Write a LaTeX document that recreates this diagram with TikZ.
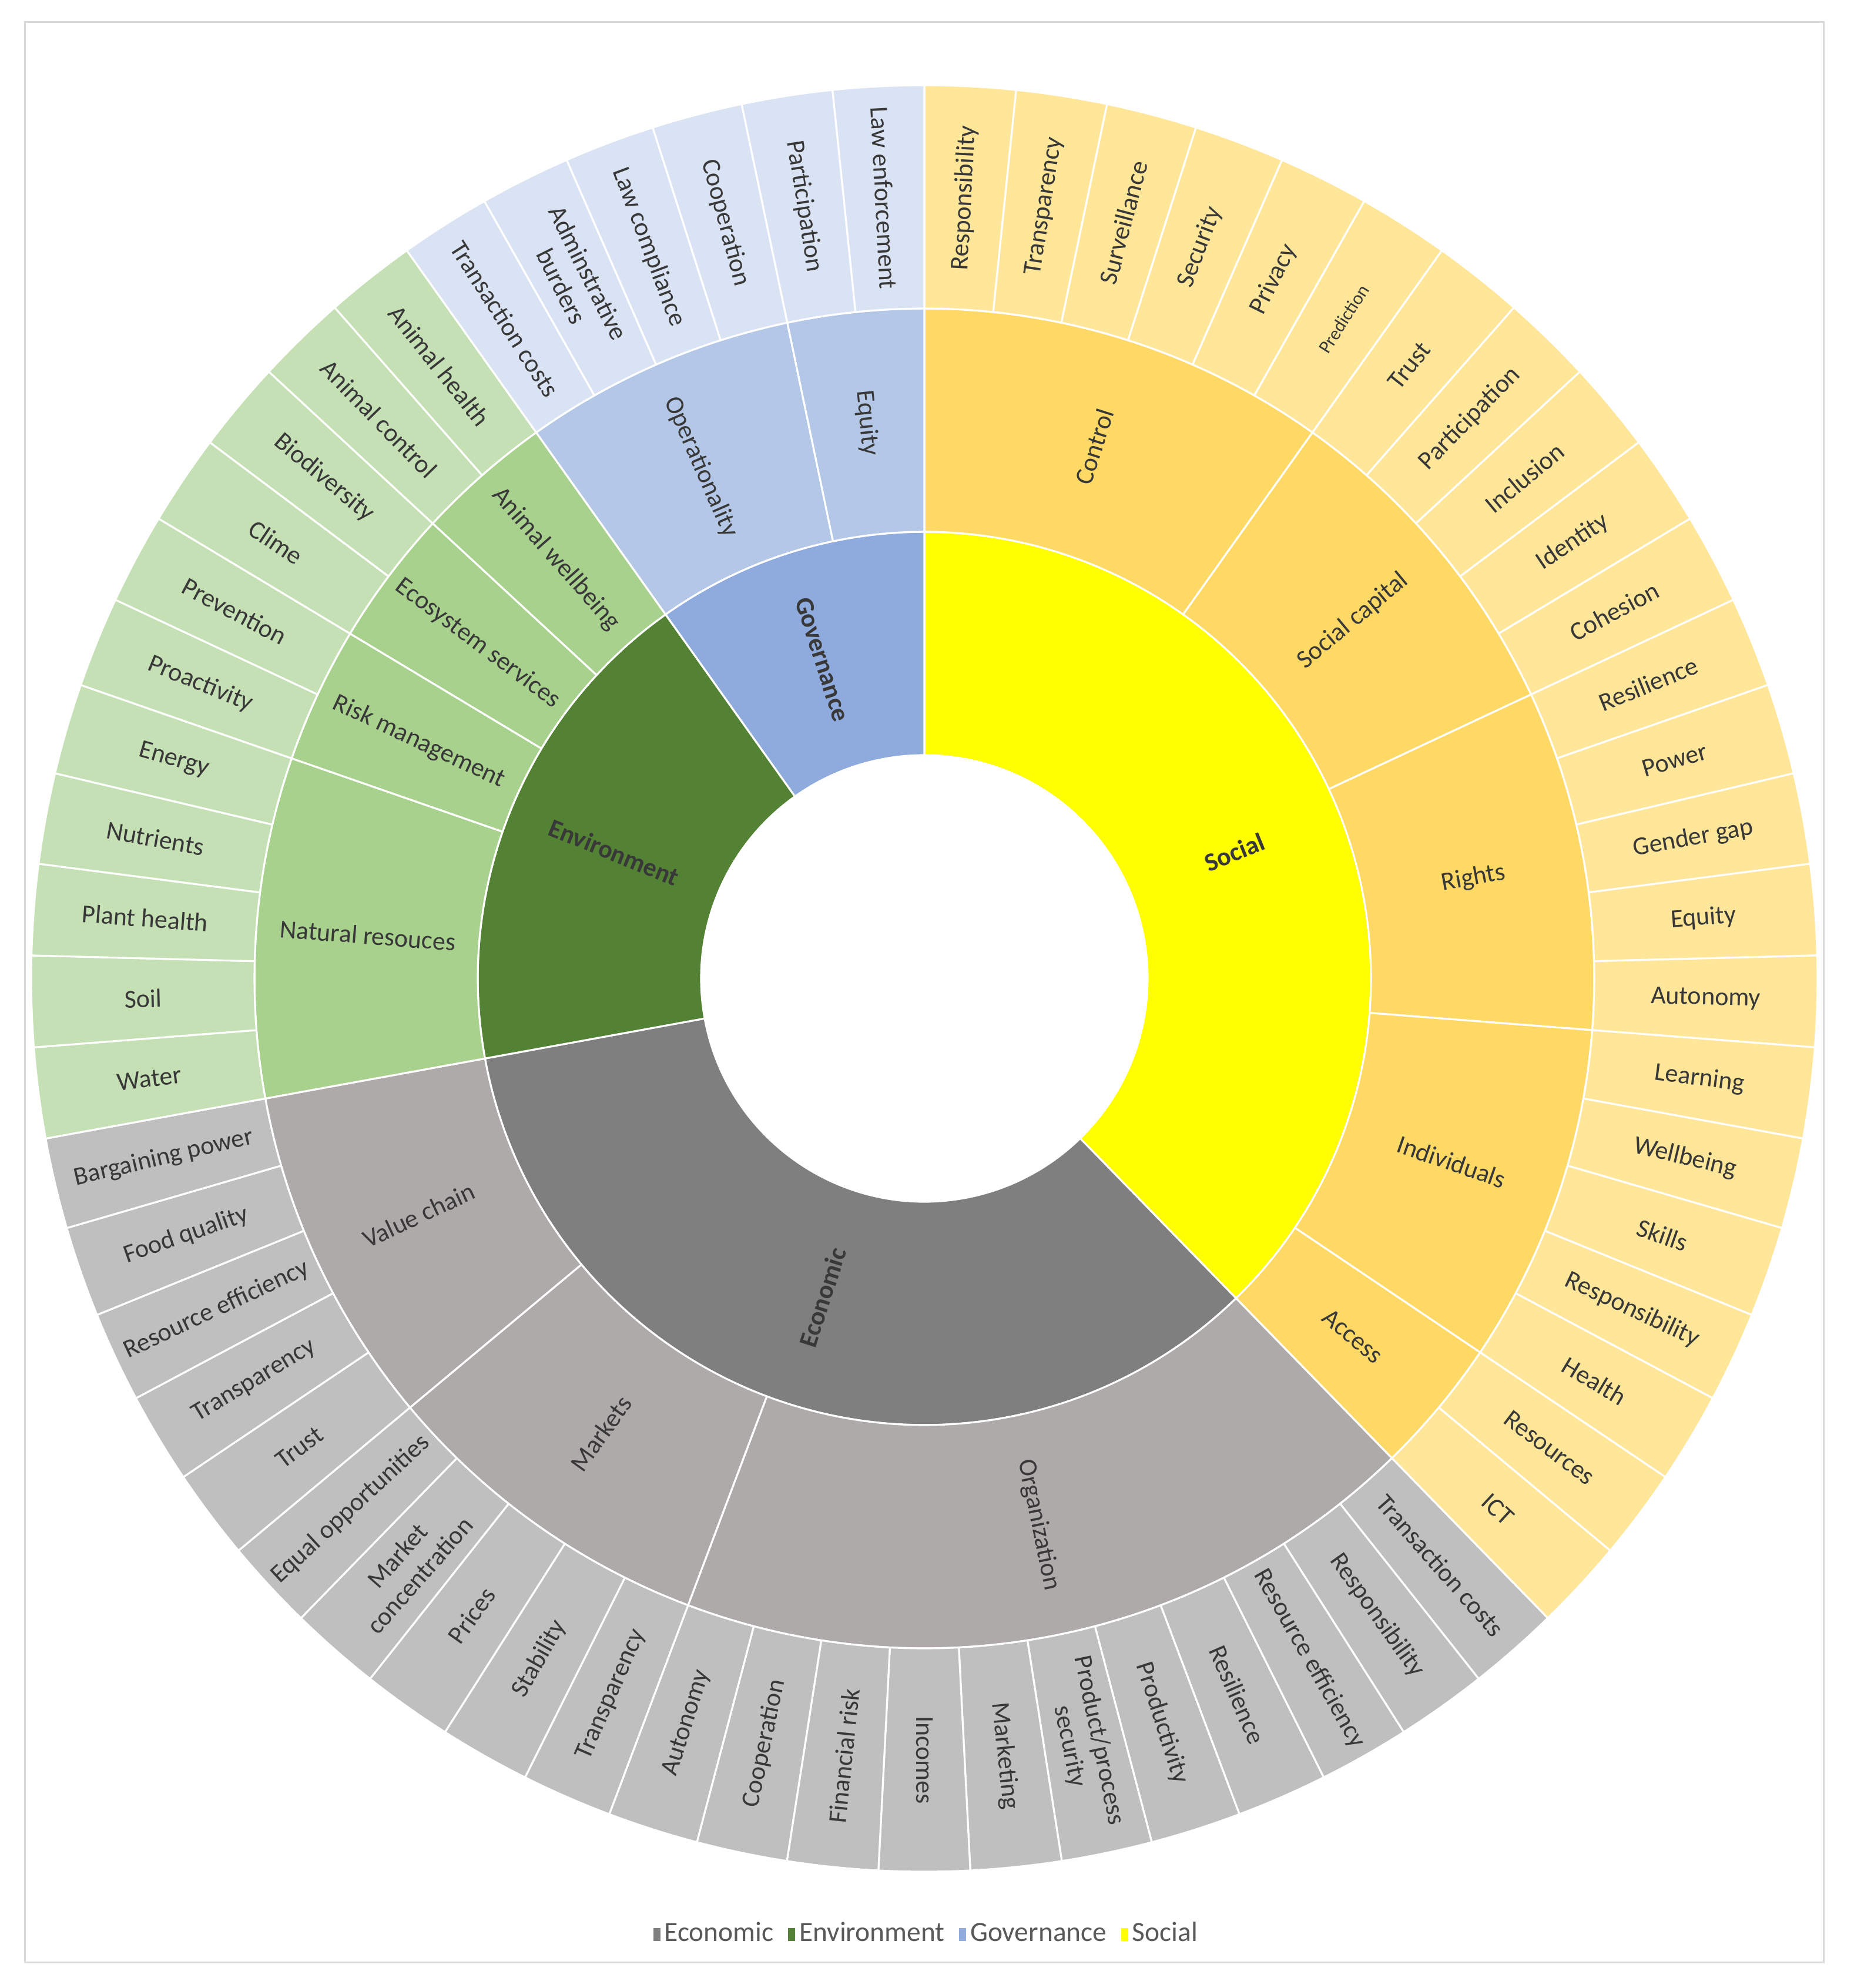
\documentclass[tikz,border=0pt]{standalone}
\usepackage{fontspec}
\setmainfont{Carlito}
\definecolor{socA}{HTML}{FFFF00}
\definecolor{socB}{HTML}{FFD966}
\definecolor{socC}{HTML}{FFE699}
\definecolor{ecoA}{HTML}{7F7F7F}
\definecolor{ecoB}{HTML}{AEAAAA}
\definecolor{ecoC}{HTML}{BFBFBF}
\definecolor{envA}{HTML}{548235}
\definecolor{envB}{HTML}{A9D18E}
\definecolor{envC}{HTML}{C5E0B4}
\definecolor{govA}{HTML}{8FAADC}
\definecolor{govB}{HTML}{B4C7E7}
\definecolor{govC}{HTML}{DAE3F3}
\definecolor{lbltext}{HTML}{383838}
\definecolor{legtext}{HTML}{595959}
\definecolor{framegray}{HTML}{D9D9D9}
\newcommand{\sbseg}[6]{%
  \pgfmathsetmacro\sbaA{90-#2*(360/61)}%
  \pgfmathsetmacro\sbaB{90-(#2+#3)*(360/61)}%
  \pgfmathsetmacro\sbam{(\sbaA+\sbaB)/2}%
  \pgfmathsetmacro\sbrin{3.8*(#1+1)}%
  \pgfmathsetmacro\sbrout{3.8*(#1+2)}%
  \pgfmathsetmacro\sbrmid{3.8*(#1+1.5)}%
  \pgfmathsetmacro\sbrot{cos(\sbam)>=0 ? \sbam : \sbam+180}%
  \path[segment, fill=#4] (\sbaA:\sbrin cm) -- (\sbaA:\sbrout cm)
    arc[start angle=\sbaA, end angle=\sbaB, radius=\sbrout cm]
    -- (\sbaB:\sbrin cm)
    arc[start angle=\sbaB, end angle=\sbaA, radius=\sbrin cm] -- cycle;
  \node[lbl, rotate=\sbrot] (#5) at (\sbam:\sbrmid cm) {#6};%
}
\begin{document}
\begin{tikzpicture}[
  segment/.style={draw=white, line width=0.9pt, line join=round},
  lbl/.style={text=lbltext, font=\fontsize{12.5}{14.5}\selectfont, align=center, inner sep=0pt},
  legendnode/.style={text=legtext, font=\fontsize{13.5}{15}\selectfont, inner sep=0pt}
]
\useasboundingbox (-15.73,-17.18) rectangle (15.81,16.65);
\fill[white] (-15.73,-17.18) rectangle (15.81,16.65);
\draw[framegray, line width=0.85pt] (-15.30,-16.74) rectangle (15.30,16.27);

% level 1
\sbseg{0}{0}{23}{socA}{social}{\bfseries Social}
\sbseg{0}{23}{21}{ecoA}{economic}{\bfseries Economic}
\sbseg{0}{44}{11}{envA}{environment}{\bfseries Environment}
\sbseg{0}{55}{6}{govA}{governance}{\bfseries Governance}

% level 2
\sbseg{1}{0}{6}{socB}{control}{Control}
\sbseg{1}{6}{5}{socB}{socialcapital}{Social capital}
\sbseg{1}{11}{5}{socB}{rights}{Rights}
\sbseg{1}{16}{5}{socB}{individuals}{Individuals}
\sbseg{1}{21}{2}{socB}{access}{Access}
\sbseg{1}{23}{11}{ecoB}{organization}{Organization}
\sbseg{1}{34}{5}{ecoB}{markets}{Markets}
\sbseg{1}{39}{5}{ecoB}{valuechain}{Value chain}
\sbseg{1}{44}{5}{envB}{natural}{Natural resouces}
\sbseg{1}{49}{2}{envB}{riskmgmt}{Risk management}
\sbseg{1}{51}{2}{envB}{ecosystem}{Ecosystem services}
\sbseg{1}{53}{2}{envB}{animalwb}{Animal wellbeing}
\sbseg{1}{55}{4}{govB}{operationality}{Operationality}
\sbseg{1}{59}{2}{govB}{govequity}{Equity}

% level 3 - social
\sbseg{2}{0}{1}{socC}{s1}{Responsibility}
\sbseg{2}{1}{1}{socC}{s2}{Transparency}
\sbseg{2}{2}{1}{socC}{s3}{Surveillance}
\sbseg{2}{3}{1}{socC}{s4}{Security}
\sbseg{2}{4}{1}{socC}{s5}{Privacy}
\sbseg{2}{5}{1}{socC}{s6}{\fontsize{9}{10}\selectfont Prediction}
\sbseg{2}{6}{1}{socC}{s7}{Trust}
\sbseg{2}{7}{1}{socC}{s8}{Participation}
\sbseg{2}{8}{1}{socC}{s9}{Inclusion}
\sbseg{2}{9}{1}{socC}{s10}{Identity}
\sbseg{2}{10}{1}{socC}{s11}{Cohesion}
\sbseg{2}{11}{1}{socC}{s12}{Resilience}
\sbseg{2}{12}{1}{socC}{s13}{Power}
\sbseg{2}{13}{1}{socC}{s14}{Gender gap}
\sbseg{2}{14}{1}{socC}{s15}{Equity}
\sbseg{2}{15}{1}{socC}{s16}{Autonomy}
\sbseg{2}{16}{1}{socC}{s17}{Learning}
\sbseg{2}{17}{1}{socC}{s18}{Wellbeing}
\sbseg{2}{18}{1}{socC}{s19}{Skills}
\sbseg{2}{19}{1}{socC}{s20}{Responsibility}
\sbseg{2}{20}{1}{socC}{s21}{Health}
\sbseg{2}{21}{1}{socC}{s22}{Resources}
\sbseg{2}{22}{1}{socC}{s23}{ICT}
% level 3 - economic
\sbseg{2}{23}{1}{ecoC}{e1}{Transaction costs}
\sbseg{2}{24}{1}{ecoC}{e2}{Responsibility}
\sbseg{2}{25}{1}{ecoC}{e3}{Resource efficiency}
\sbseg{2}{26}{1}{ecoC}{e4}{Resilience}
\sbseg{2}{27}{1}{ecoC}{e5}{Productivity}
\sbseg{2}{28}{1}{ecoC}{e6}{Product/process\\security}
\sbseg{2}{29}{1}{ecoC}{e7}{Marketing}
\sbseg{2}{30}{1}{ecoC}{e8}{Incomes}
\sbseg{2}{31}{1}{ecoC}{e9}{Financial risk}
\sbseg{2}{32}{1}{ecoC}{e10}{Cooperation}
\sbseg{2}{33}{1}{ecoC}{e11}{Autonomy}
\sbseg{2}{34}{1}{ecoC}{e12}{Transparency}
\sbseg{2}{35}{1}{ecoC}{e13}{Stability}
\sbseg{2}{36}{1}{ecoC}{e14}{Prices}
\sbseg{2}{37}{1}{ecoC}{e15}{Market\\concentration}
\sbseg{2}{38}{1}{ecoC}{e16}{Equal opportunities}
\sbseg{2}{39}{1}{ecoC}{e17}{Trust}
\sbseg{2}{40}{1}{ecoC}{e18}{Transparency}
\sbseg{2}{41}{1}{ecoC}{e19}{Resource efficiency}
\sbseg{2}{42}{1}{ecoC}{e20}{Food quality}
\sbseg{2}{43}{1}{ecoC}{e21}{Bargaining power}
% level 3 - environment
\sbseg{2}{44}{1}{envC}{v1}{Water}
\sbseg{2}{45}{1}{envC}{v2}{Soil}
\sbseg{2}{46}{1}{envC}{v3}{Plant health}
\sbseg{2}{47}{1}{envC}{v4}{Nutrients}
\sbseg{2}{48}{1}{envC}{v5}{Energy}
\sbseg{2}{49}{1}{envC}{v6}{Proactivity}
\sbseg{2}{50}{1}{envC}{v7}{Prevention}
\sbseg{2}{51}{1}{envC}{v8}{Clime}
\sbseg{2}{52}{1}{envC}{v9}{Biodiversity}
\sbseg{2}{53}{1}{envC}{v10}{Animal control}
\sbseg{2}{54}{1}{envC}{v11}{Animal health}
% level 3 - governance
\sbseg{2}{55}{1}{govC}{g1}{Transaction costs}
\sbseg{2}{56}{1}{govC}{g2}{Adminstrative\\burders}
\sbseg{2}{57}{1}{govC}{g3}{Law compliance}
\sbseg{2}{58}{1}{govC}{g4}{Cooperation}
\sbseg{2}{59}{1}{govC}{g5}{Participation}
\sbseg{2}{60}{1}{govC}{g6}{Law enforcement}

% legend
\node[legendnode] (legend) at (0.02,-16.22) {%
  \textcolor{ecoA}{\rule{0.12cm}{0.22cm}}\hspace{2pt}Economic\hspace{7pt}%
  \textcolor{envA}{\rule{0.12cm}{0.22cm}}\hspace{2pt}Environment\hspace{7pt}%
  \textcolor{govA}{\rule{0.12cm}{0.22cm}}\hspace{2pt}Governance\hspace{7pt}%
  \textcolor{socA}{\rule{0.12cm}{0.22cm}}\hspace{2pt}Social};
\end{tikzpicture}
\end{document}
